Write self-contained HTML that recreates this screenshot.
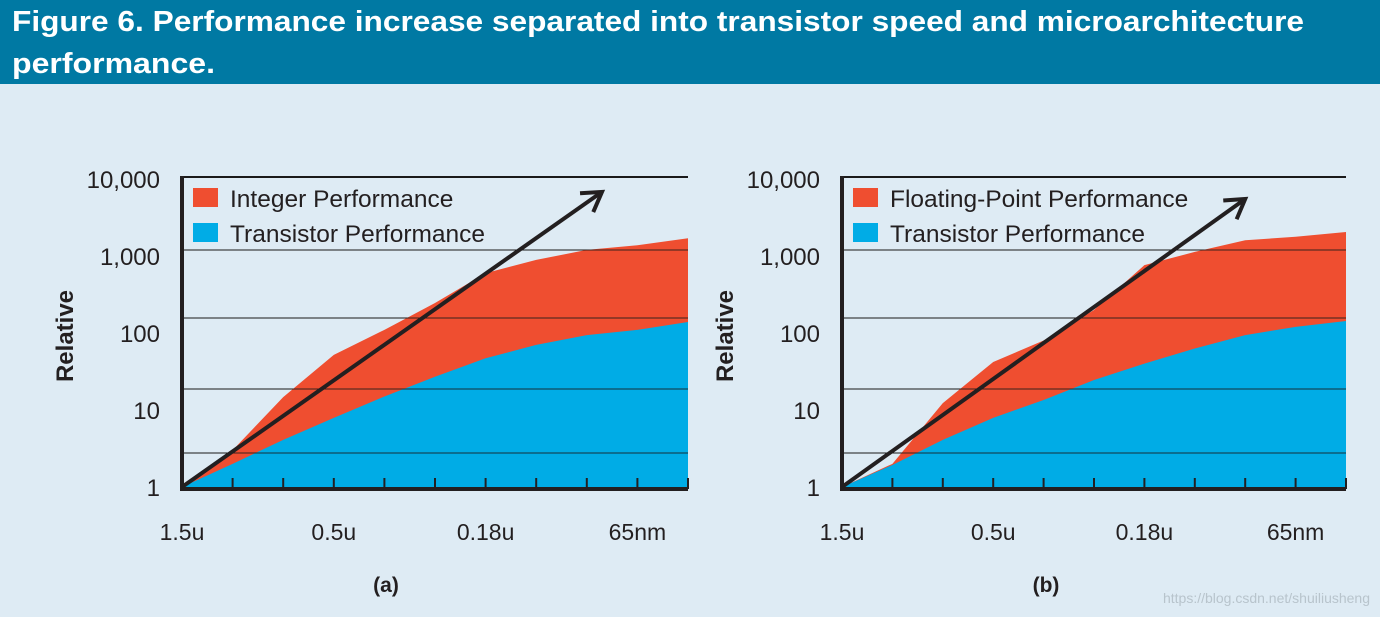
<!DOCTYPE html>
<html><head><meta charset="utf-8"><style>
html,body{margin:0;padding:0;background:#deebf4;}
svg{display:block;font-family:"Liberation Sans",sans-serif;}
</style></head><body>
<svg id="fig" width="1380" height="617" viewBox="0 0 1380 617">
<rect x="0" y="0" width="1380" height="617" fill="#deebf4"/>
<rect x="0" y="0" width="1380" height="84" fill="#0079a3"/>
<text x="12" y="31" fill="#fff" font-size="29" font-weight="bold" textLength="1292" lengthAdjust="spacingAndGlyphs">Figure 6. Performance increase separated into transistor speed and microarchitecture</text>
<text x="12" y="73" fill="#fff" font-size="29" font-weight="bold" textLength="203" lengthAdjust="spacingAndGlyphs">performance.</text>
<text x="1370" y="603" fill="#b8c4cc" font-size="14" text-anchor="end">https://blog.csdn.net/shuiliusheng</text>
<g id="chartA"></g>
<g id="chartB"></g>
</svg>
<script>
const xLabels = ["1.5u","0.5u","0.18u","65nm"];
const xLabelIdx = [0,3,6,9];
const yTicks = [1,10,100,1000,10000];
const yTickLabels = ["1","10","100","1,000","10,000"];
const integerPerf = [1,3.0,14.7,52,110,245,600,890,1200,1380,1700];
const transistorA = [1,2.0,4.1,7.9,15,27,47,70,94,110,139];
const fpPerf = [1,2.0,12.3,42,80,199,760,1130,1600,1780,2050];
const transistorB = [1,1.93,4.1,7.9,13.5,24.5,40,63,94,120,143];
const arrowA = [[0,1],[8.3,6800]];
const arrowB = [[0,1],[8.0,5500]];
const NS="http://www.w3.org/2000/svg";
function el(tag,attrs,parent){const e=document.createElementNS(NS,tag);for(const k in attrs)e.setAttribute(k,attrs[k]);parent.appendChild(e);return e;}
function draw(g,x0,x1,top,trans,arrow,label,panel){
  const y=v=>487-Math.log10(v)*77;
  const x=i=>x0+(x1-x0)*i/10;
  const grid=[177,250,318,389,453];
  grid.forEach((gy,i)=>{const l=el('line',{x1:x0,x2:x1,y1:gy,y2:gy,stroke:'#1a1a1a','stroke-width':i==0?2:1},g);
    
    });
  let d='M'+x(0)+','+y(top[0]);top.forEach((v,i)=>d+=' L'+x(i)+','+y(v));d+=' L'+x(10)+',488 L'+x(0)+',488Z';
  const r=el('path',{d:d,fill:'#ef4e30'},g);
  
  
  d='M'+x(0)+','+y(trans[0]);trans.forEach((v,i)=>d+=' L'+x(i)+','+y(v));d+=' L'+x(10)+',488 L'+x(0)+',488Z';
  const b=el('path',{d:d,fill:'#00ace6'},g);
  
  
  grid.slice(1).forEach(gy=>{const l=el('line',{x1:x0,x2:x1,y1:gy,y2:gy,stroke:'#1a1a1a','stroke-width':1,'stroke-opacity':0.85},g);
    
    });
  const ya=el('line',{x1:x0,x2:x0,y1:176,y2:491,stroke:'#231f20','stroke-width':4},g);
  
  
  const xa=el('line',{x1:x0-2,x2:x1,y1:489,y2:489,stroke:'#231f20','stroke-width':4},g);
  
  
  for(let i=1;i<=10;i++){const t=el('line',{x1:x(i),x2:x(i),y1:478,y2:489,stroke:'#231f20','stroke-width':2},g);
    
    }
  yTicks.forEach((v,i)=>{const t=el('text',{x:x0-22,y:y(v)+9,'text-anchor':'end','font-size':24,fill:'#231f20'},g);t.textContent=yTickLabels[i];
    
    });
  xLabels.forEach((s,i)=>{const t=el('text',{x:x(xLabelIdx[i]),y:540,'text-anchor':'middle','font-size':23,fill:'#231f20'},g);t.textContent=s;
    
    });
  const yt=el('text',{x:0,y:0,transform:'translate('+(x0-109)+',336) rotate(-90)','text-anchor':'middle','font-size':24,'font-weight':'bold',fill:'#231f20'},g);yt.textContent='Relative';
  
  
  const pt=el('text',{x:x0+204,y:592,'text-anchor':'middle','font-size':21,'font-weight':'bold',fill:'#231f20'},g);pt.textContent=panel;
  
  
  const ax0=x(arrow[0][0]),ay0=y(arrow[0][1]),ax1=x(arrow[1][0]),ay1=y(arrow[1][1]);
  const ar=el('line',{x1:ax0,y1:ay0,x2:ax1,y2:ay1,stroke:'#231f20','stroke-width':4},g);
  
  
  const ang=Math.atan2(ay1-ay0,ax1-ax0),L=22;
  const hd='M'+(ax1-L*Math.cos(ang-0.55))+','+(ay1-L*Math.sin(ang-0.55))+' L'+ax1+','+ay1+' L'+(ax1-L*Math.cos(ang+0.55))+','+(ay1-L*Math.sin(ang+0.55));
  const ah=el('path',{d:hd,fill:'none',stroke:'#231f20','stroke-width':4},g);
  
  
  [[label,'#ef4e30',198],['Transistor Performance','#00ace6',233]].forEach(([s,c,ly])=>{
    const sw=el('rect',{x:x0+11,y:ly-10,width:25,height:19,fill:c},g);
    
    
    const t=el('text',{x:x0+48,y:ly+9,'font-size':24.5,fill:'#231f20'},g);t.textContent=s;
    
    });
}
draw(document.getElementById('chartA'),182,688,integerPerf,transistorA,arrowA,'Integer Performance','(a)');
draw(document.getElementById('chartB'),842,1346,fpPerf,transistorB,arrowB,'Floating-Point Performance','(b)');
</script>
</body></html>
